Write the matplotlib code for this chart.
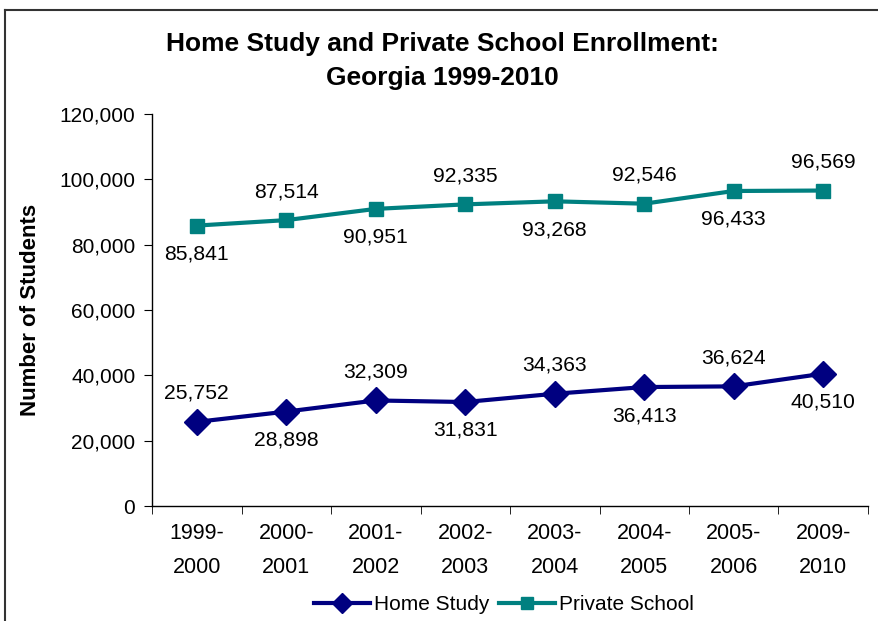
import matplotlib
matplotlib.use("Agg")
import matplotlib.pyplot as plt
from matplotlib.lines import Line2D

plt.rcParams['font.family'] = ['Liberation Sans', 'DejaVu Sans']

categories = ["1999-\n2000", "2000-\n2001", "2001-\n2002", "2002-\n2003",
              "2003-\n2004", "2004-\n2005", "2005-\n2006", "2009-\n2010"]
home_study = [25752, 28898, 32309, 31831, 34363, 36413, 36624, 40510]
private_school = [85841, 87514, 90951, 92335, 93268, 92546, 96433, 96569]
# label placement: +1 above the point, -1 below
home_side = [1, -1, 1, -1, 1, -1, 1, -1]
private_side = [-1, 1, -1, 1, -1, 1, -1, 1]

navy = "#000080"
teal = "#008080"

W, H = 879, 621
fig = plt.figure(figsize=(W / 100, H / 100), dpi=100)
ax = fig.add_axes([152 / W, 1 - 506 / H, (868 - 152) / W, (506 - 114) / H])

x = list(range(len(categories)))
ax.plot(x, home_study, color=navy, lw=3, marker='D', ms=13,
        markeredgecolor=navy, label="Home Study", clip_on=False)
ax.plot(x, private_school, color=teal, lw=3, marker='s', ms=10,
        markeredgecolor=teal, label="Private School", clip_on=False)

for xs, vals, sides in [(x, home_study, home_side), (x, private_school, private_side)]:
    for xi, v, s in zip(xs, vals, sides):
        ax.annotate(f"{v:,}", (xi, v), xytext=(0, 20.5 * s), textcoords='offset points',
                    ha='center', va='center', fontsize=15.2)

ax.set_xlim(-0.5, len(categories) - 0.5)
ax.set_ylim(0, 120000)
ax.set_yticks(range(0, 120001, 20000))
ax.set_yticklabels([f"{t:,}" for t in range(0, 120001, 20000)], fontsize=15)
ax.set_xticks(x)
ax.set_xticklabels(categories, fontsize=15.5, linespacing=1.82)
ax.tick_params(axis='x', length=0, pad=12)
ax.set_xticks([i - 0.5 for i in range(len(categories) + 1)], minor=True)
ax.tick_params(axis='x', which='minor', length=6, direction='out', color='black')
ax.tick_params(axis='y', length=6, direction='out', pad=6)
for sp in ['top', 'right']:
    ax.spines[sp].set_visible(False)
for sp in ['left', 'bottom']:
    ax.spines[sp].set_linewidth(1.0)

ax.set_ylabel("Number of Students", fontsize=16, fontweight='bold')
ax.yaxis.set_label_coords(-(152 - 30) / (868 - 152), 0.5)
ax.yaxis.label.set_va('center')

fig.text(442 / W, 1 - 61 / H,
         "Home Study and Private School Enrollment:\nGeorgia 1999-2010",
         ha='center', va='center', fontsize=19, fontweight='bold', linespacing=1.55)

leg = fig.legend(handles=[
    Line2D([], [], color=navy, lw=3, marker='D', ms=10),
    Line2D([], [], color=teal, lw=3, marker='s', ms=9)],
    labels=["Home Study", "Private School"], loc='center',
    bbox_to_anchor=(504 / W, 1 - 605 / H), ncol=2, frameon=False, fontsize=15,
    handlelength=2.7, columnspacing=0.45, handletextpad=0.2)

# outer frame (top and left edges)
fig.add_artist(Line2D([5 / W, 1.0], [1 - 10 / H, 1 - 10 / H], color='#333333', lw=1.5,
                      transform=fig.transFigure))
fig.add_artist(Line2D([5 / W, 5 / W], [0, 1 - 10 / H], color='#333333', lw=1.5,
                      transform=fig.transFigure))

fig.savefig("out.png", dpi=100)
